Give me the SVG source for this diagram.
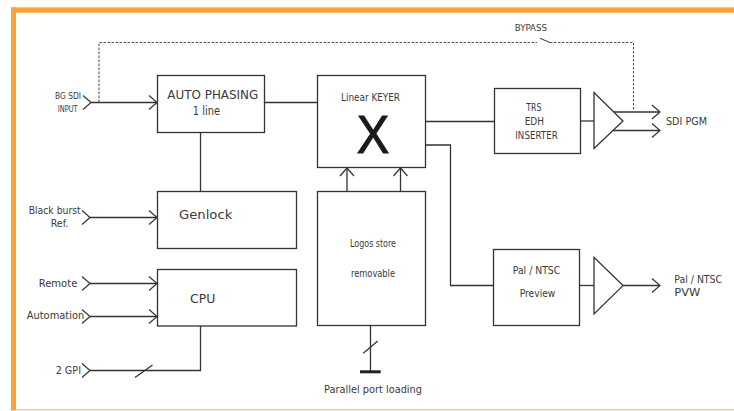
<svg xmlns="http://www.w3.org/2000/svg" width="734" height="411" viewBox="0 0 734 411">
<defs>
<style>
.box{fill:#fff;stroke:#333;stroke-width:1.3}
.ln{fill:none;stroke:#333;stroke-width:1.3}
.dash{fill:none;stroke:#555;stroke-width:1.1;stroke-dasharray:2.5 1.5}
text{font-family:"DejaVu Sans","Liberation Sans",sans-serif;fill:#3a3a3a}
.s8{font-size:8.5px}
.s9{font-size:9px}
.s10{font-size:10px}
.s105{font-size:10.5px}
.s12{font-size:12px}
</style>
<marker id="ah" viewBox="-9 -8 10 16" refX="0" refY="0" markerWidth="10" markerHeight="16" markerUnits="userSpaceOnUse" orient="auto">
<path d="M-8,-7 L0,0 L-8,7" fill="none" stroke="#333" stroke-width="1.2"/>
</marker>
</defs>
<rect width="734" height="411" fill="#fff"/>
<g id="frame">
<rect x="11" y="6.8" width="723" height="1" fill="#FCD9AA"/>
<rect x="11" y="7.5" width="723" height="5.3" fill="#F9A33B"/>
<rect x="11" y="7.5" width="5" height="403" fill="#F9A33B"/>
<rect x="16" y="409" width="718" height="1.5" fill="#F9CC90"/>
</g>
<g id="connectors">
<path class="ln" d="M91,102.5 H157" marker-start="url(#ah)" marker-end="url(#ah)"/>
<path class="ln" d="M90,217.5 H157" marker-start="url(#ah)" marker-end="url(#ah)"/>
<path class="ln" d="M90,283.5 H157" marker-start="url(#ah)" marker-end="url(#ah)"/>
<path class="ln" d="M90,316.5 H157" marker-start="url(#ah)" marker-end="url(#ah)"/>
<path class="ln" d="M90,370.5 H200.5 V326" marker-start="url(#ah)"/>
<path class="ln" d="M135,377.5 L152.5,365"/>
<path class="ln" d="M264.5,102.5 H317.5"/>
<path class="ln" d="M200.5,132.5 V191.5"/>
<path class="ln" d="M347,191.5 V168" marker-end="url(#ah)"/>
<path class="ln" d="M400.5,191.5 V168" marker-end="url(#ah)"/>
<path class="ln" d="M425.5,121.5 H494.5"/>
<path class="ln" d="M425.5,145 H450.5 V285.5 H493.5"/>
<path class="ln" d="M580.5,121 H594"/>
<path class="ln" d="M613.8,112 H660" marker-end="url(#ah)"/>
<path class="ln" d="M613,130.5 H660" marker-end="url(#ah)"/>
<path class="ln" d="M579.5,285.5 H594"/>
<path class="ln" d="M623,285.5 H660" marker-end="url(#ah)"/>
<path class="dash" d="M99,102 V42.5 H537"/>
<path class="dash" d="M550,42.5 H633.5 V110"/>
<path class="ln" d="M540,38.3 L550,42.5" style="stroke-width:1"/>
<path class="ln" d="M370.5,325.5 V371"/>
<path class="ln" d="M363.3,353.3 L377.7,341"/>
<rect x="360" y="370.3" width="20.7" height="3" fill="#222"/>
</g>
<g id="labels">
<text class="s8" x="55" y="98.7" textLength="26" lengthAdjust="spacingAndGlyphs">BG SDI</text>
<text class="s8" x="57.7" y="111.7" textLength="20" lengthAdjust="spacingAndGlyphs">INPUT</text>
<text class="s9" x="514.7" y="30.7" textLength="32.3" lengthAdjust="spacingAndGlyphs">BYPASS</text>
<text class="s105" x="666" y="125" textLength="41" lengthAdjust="spacingAndGlyphs">SDI PGM</text>
<text class="s105" x="28.7" y="214.3" textLength="52" lengthAdjust="spacingAndGlyphs">Black burst</text>
<text class="s105" x="50.7" y="227.3" textLength="17.6" lengthAdjust="spacingAndGlyphs">Ref.</text>
<text class="s105" x="38.7" y="286.7" textLength="38.6" lengthAdjust="spacingAndGlyphs">Remote</text>
<text class="s105" x="26.7" y="319.3" textLength="57.6" lengthAdjust="spacingAndGlyphs">Automation</text>
<text class="s105" x="55.7" y="374" textLength="25.3" lengthAdjust="spacingAndGlyphs">2 GPI</text>
<text class="s105" x="324" y="393.3" textLength="98" lengthAdjust="spacingAndGlyphs">Parallel port loading</text>
<text class="s10" x="674.3" y="282.7" textLength="47.7" lengthAdjust="spacingAndGlyphs">Pal / NTSC</text>
<text class="s10" x="674.3" y="296" textLength="26" lengthAdjust="spacingAndGlyphs">PVW</text>
</g>
<g id="auto_phasing">
<rect class="box" x="157.5" y="75.5" width="107" height="57"/>
<text class="s12" x="167.3" y="99.3" textLength="91" lengthAdjust="spacingAndGlyphs">AUTO PHASING</text>
<text class="s12" x="192.7" y="115" textLength="27.3" lengthAdjust="spacingAndGlyphs">1 line</text>
</g>
<g id="linear_keyer">
<rect class="box" x="317.5" y="75.5" width="108" height="92"/>
<text class="s10" x="341" y="100.7" textLength="59" lengthAdjust="spacingAndGlyphs">Linear KEYER</text>
<text x="356.7" y="152.7" style="font-size:54px;font-family:'Liberation Sans',sans-serif;fill:#1a1a1a;stroke:#1a1a1a;stroke-width:1" textLength="32.6" lengthAdjust="spacingAndGlyphs">X</text>
</g>
<g id="trs_edh">
<rect class="box" x="494.5" y="88.5" width="86" height="65"/>
<text class="s10" x="526.3" y="111" textLength="15" lengthAdjust="spacingAndGlyphs">TRS</text>
<text class="s10" x="524.7" y="125" textLength="19.3" lengthAdjust="spacingAndGlyphs">EDH</text>
<text class="s10" x="515.3" y="139.3" textLength="42.4" lengthAdjust="spacingAndGlyphs">INSERTER</text>
</g>
<g id="amp_pgm">
<polygon class="box" points="594,92.5 594,148.5 623,121"/>
</g>
<g id="genlock">
<rect class="box" x="157.5" y="191.5" width="139" height="57"/>
<text class="s12" x="179" y="219.3" textLength="53.3" lengthAdjust="spacingAndGlyphs">Genlock</text>
</g>
<g id="cpu">
<rect class="box" x="157.5" y="269.5" width="139" height="56.5"/>
<text class="s12" x="190" y="303.3" textLength="25.3" lengthAdjust="spacingAndGlyphs">CPU</text>
</g>
<g id="logos_store">
<rect class="box" x="317.5" y="191.5" width="108" height="134"/>
<text class="s10" x="350" y="246.7" textLength="46" lengthAdjust="spacingAndGlyphs">Logos store</text>
<text class="s10" x="351" y="276.7" textLength="44" lengthAdjust="spacingAndGlyphs">removable</text>
</g>
<g id="pal_ntsc_preview">
<rect class="box" x="493.5" y="249.5" width="86" height="76"/>
<text class="s10" x="512.7" y="274" textLength="47.6" lengthAdjust="spacingAndGlyphs">Pal / NTSC</text>
<text class="s10" x="519.7" y="297.3" textLength="35.6" lengthAdjust="spacingAndGlyphs">Preview</text>
</g>
<g id="amp_pvw">
<polygon class="box" points="594,257.3 594,314 623,285.6"/>
</g>
</svg>
